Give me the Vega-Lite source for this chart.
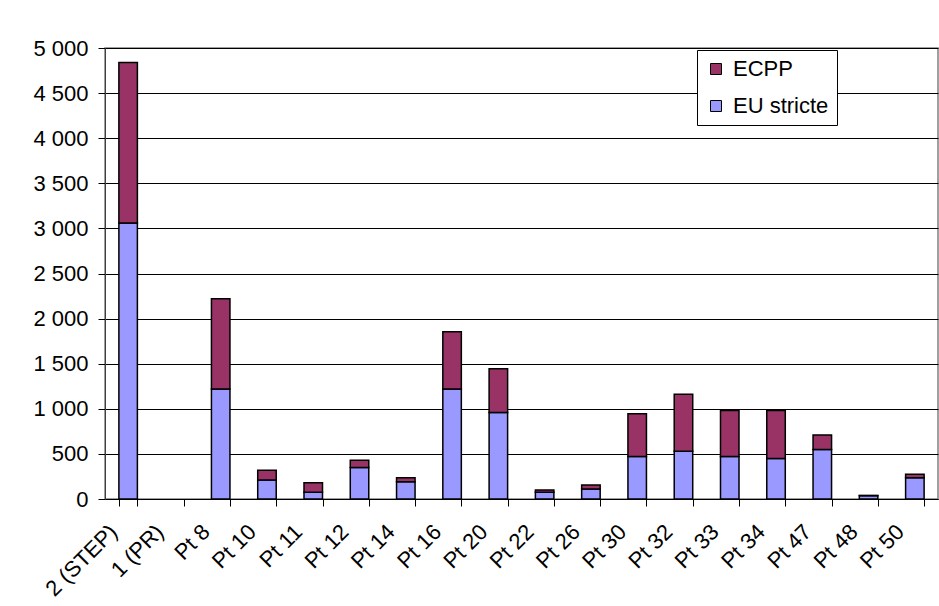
{
  "$schema": "https://vega.github.io/schema/vega-lite/v6.json",
  "autosize": {"type": "none"},
  "width": 833,
  "height": 451,
  "padding": {"left": 105, "top": 48, "right": 1, "bottom": 107},
  "background": "white",
  "config": {
    "font": "Liberation Sans",
    "view": {"stroke": "#808080", "strokeWidth": 1.5},
    "axis": {"labelFont": "Liberation Sans", "labelFontSize": 22, "labelColor": "black"}
  },
  "data": {
    "values": [
      {"cat": "2 (STEP)", "series": "EU stricte", "value": 3060},
      {"cat": "2 (STEP)", "series": "ECPP", "value": 1780},
      {"cat": "1 (PR)", "series": "EU stricte", "value": 0},
      {"cat": "1 (PR)", "series": "ECPP", "value": 0},
      {"cat": "Pt 8", "series": "EU stricte", "value": 1220},
      {"cat": "Pt 8", "series": "ECPP", "value": 1000},
      {"cat": "Pt 10", "series": "EU stricte", "value": 210},
      {"cat": "Pt 10", "series": "ECPP", "value": 110},
      {"cat": "Pt 11", "series": "EU stricte", "value": 75},
      {"cat": "Pt 11", "series": "ECPP", "value": 105},
      {"cat": "Pt 12", "series": "EU stricte", "value": 350},
      {"cat": "Pt 12", "series": "ECPP", "value": 80},
      {"cat": "Pt 14", "series": "EU stricte", "value": 190},
      {"cat": "Pt 14", "series": "ECPP", "value": 45},
      {"cat": "Pt 16", "series": "EU stricte", "value": 1220},
      {"cat": "Pt 16", "series": "ECPP", "value": 635},
      {"cat": "Pt 20", "series": "EU stricte", "value": 960},
      {"cat": "Pt 20", "series": "ECPP", "value": 485},
      {"cat": "Pt 22", "series": "EU stricte", "value": 75},
      {"cat": "Pt 22", "series": "ECPP", "value": 25},
      {"cat": "Pt 26", "series": "EU stricte", "value": 110},
      {"cat": "Pt 26", "series": "ECPP", "value": 45},
      {"cat": "Pt 30", "series": "EU stricte", "value": 470},
      {"cat": "Pt 30", "series": "ECPP", "value": 475},
      {"cat": "Pt 32", "series": "EU stricte", "value": 530},
      {"cat": "Pt 32", "series": "ECPP", "value": 630},
      {"cat": "Pt 33", "series": "EU stricte", "value": 470},
      {"cat": "Pt 33", "series": "ECPP", "value": 510},
      {"cat": "Pt 34", "series": "EU stricte", "value": 450},
      {"cat": "Pt 34", "series": "ECPP", "value": 530},
      {"cat": "Pt 47", "series": "EU stricte", "value": 550},
      {"cat": "Pt 47", "series": "ECPP", "value": 160},
      {"cat": "Pt 48", "series": "EU stricte", "value": 37},
      {"cat": "Pt 48", "series": "ECPP", "value": 3},
      {"cat": "Pt 50", "series": "EU stricte", "value": 235},
      {"cat": "Pt 50", "series": "ECPP", "value": 40}
    ]
  },
  "mark": {"type": "bar", "stroke": "black"},
  "encoding": {
    "x": {
      "field": "cat",
      "type": "nominal",
      "sort": null,
      "scale": {"paddingInner": 0.6, "paddingOuter": 0.3},
      "axis": {
        "title": null,
        "labelAngle": -45,
        "labelAlign": "right",
        "labelBaseline": "middle",
        "labelPadding": 22,
        "labelOffset": -15,
        "tickBand": "extent",
        "tickSize": 7,
        "tickColor": "black",
        "domainColor": "black",
        "grid": false
      }
    },
    "y": {
      "field": "value",
      "type": "quantitative",
      "stack": "zero",
      "scale": {"domain": [0, 5000], "nice": false},
      "axis": {
        "title": null,
        "values": [0, 500, 1000, 1500, 2000, 2500, 3000, 3500, 4000, 4500, 5000],
        "labelExpr": "replace(format(datum.value, ','), ',', ' ')",
        "tickSize": 7,
        "tickColor": "black",
        "labelPadding": 10,
        "domainColor": "#404040",
        "grid": true,
        "gridColor": "black",
        "gridOpacity": 1,
        "gridWidth": 1
      }
    },
    "strokeWidth": {"condition": {"test": "datum.value == 0", "value": 0}, "value": 1.5},
    "color": {
      "field": "series",
      "type": "nominal",
      "scale": {"domain": ["ECPP", "EU stricte"], "range": ["#993366", "#9999FF"]},
      "legend": {
        "title": null,
        "orient": "none",
        "legendX": 592,
        "legendY": 2,
        "direction": "vertical",
        "fillColor": "white",
        "strokeColor": "black",
        "padding": 8,
        "rowPadding": 15,
        "symbolType": "square",
        "symbolSize": 121,
        "symbolStrokeColor": "black",
        "symbolStrokeWidth": 1,
        "labelFont": "Liberation Sans",
        "labelFontSize": 22,
        "labelColor": "black",
        "labelOffset": 6
      }
    },
    "order": {"field": "series", "sort": "descending"}
  }
}
